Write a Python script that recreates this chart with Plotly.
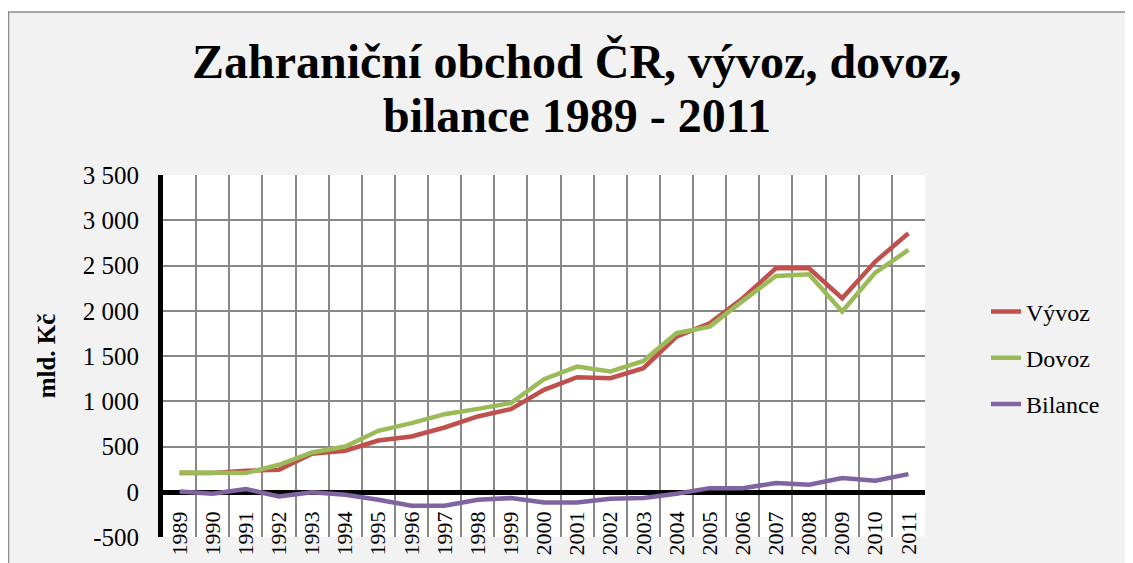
import plotly.graph_objects as go

years = [str(y) for y in range(1989, 2012)]
vyvoz = [206, 206, 232, 243, 420, 453, 566, 611, 710, 832, 913, 1126, 1266, 1255,
         1366, 1715, 1862, 2138, 2470, 2470, 2138, 2543, 2856]
dovoz = [214, 214, 206, 298, 434, 500, 673, 758, 857, 916, 979, 1244, 1383, 1328,
         1446, 1752, 1825, 2109, 2385, 2403, 1991, 2421, 2672]
bilance = [3, -22, 30, -52, -7, -33, -88, -155, -155, -88, -70, -118, -118, -77,
           -70, -22, 40, 40, 96, 77, 151, 121, 195]
y_ticks = [-500, 0, 500, 1000, 1500, 2000, 2500, 3000, 3500]
y_ticklabels = ["-500", "0", "500", "1 000", "1 500", "2 000", "2 500", "3 000", "3 500"]

FONT = "Liberation Serif, Times New Roman, serif"

fig = go.Figure()
for name, vals, color in [("Vývoz", vyvoz, "#C0504D"),
                          ("Dovoz", dovoz, "#9BBB59"),
                          ("Bilance", bilance, "#8064A2")]:
    fig.add_trace(go.Scatter(x=years, y=vals, name=name, mode="lines",
                             legendgroup=name,
                             line=dict(color=color, width=4.5)))

# plot area in figure pixels (page body adds an 8px offset)
L, R, T, B = 155, 917, 167, 529
W, H = R - L, B - T

def px_x(p):
    return (p - L) / W

def px_y(p):
    return (B - p) / H

fig.update_layout(
    width=1133, height=563,
    margin=dict(l=L, r=1133 - R, t=T, b=563 - B),
    paper_bgcolor="#f2f2f2",
    plot_bgcolor="white",
    font=dict(family=FONT, color="black"),
    showlegend=True,
    legend=dict(x=px_x(978), xanchor="left", y=px_y(350), yanchor="middle",
                font=dict(family=FONT, size=24), bgcolor="rgba(0,0,0,0)",
                tracegroupgap=12, traceorder="grouped"),
    xaxis=dict(type="category", range=[-0.5, 22.5], tickson="boundaries",
               showgrid=True, gridcolor="#888888", gridwidth=1.5,
               ticks="", tickangle=-90, tickfont=dict(family=FONT, size=22),
               ticklabelstandoff=8,
               anchor="free", position=500 / 4000,
               showline=True, linecolor="black", linewidth=5,
               layer="below traces"),
    yaxis=dict(range=[-500, 3500], tickvals=y_ticks, ticktext=y_ticklabels,
               showgrid=True, gridcolor="#888888", gridwidth=1.5,
               zeroline=False, showline=True, linecolor="black", linewidth=5,
               ticks="", tickfont=dict(family=FONT, size=25),
               ticklabelstandoff=14,
               title=dict(text="<b>mld. Kč</b>", font=dict(family=FONT, size=25),
                          standoff=22)),
    annotations=[
        dict(text="<b>Zahraniční obchod ČR, vývoz, dovoz,</b>",
             xref="paper", yref="paper", x=px_x(568.5), y=px_y(53),
             xanchor="center", yanchor="middle", showarrow=False,
             font=dict(family=FONT, size=48)),
        dict(text="<b>bilance 1989 - 2011</b>",
             xref="paper", yref="paper", x=px_x(568.5), y=px_y(108),
             xanchor="center", yanchor="middle", showarrow=False,
             font=dict(family=FONT, size=48)),
    ],
    shapes=[
        dict(type="rect", xref="paper", yref="paper",
             x0=-0.5, x1=1.5, y0=px_y(4), y1=px_y(-20),
             fillcolor="white", line=dict(width=0), layer="above"),
        dict(type="rect", xref="paper", yref="paper",
             x0=px_x(0.5), x1=px_x(1160), y0=px_y(590), y1=px_y(4),
             fillcolor="rgba(0,0,0,0)", line=dict(color="#8c8c8c", width=1.5),
             layer="above"),
    ],
)

fig.write_html("out.html")
